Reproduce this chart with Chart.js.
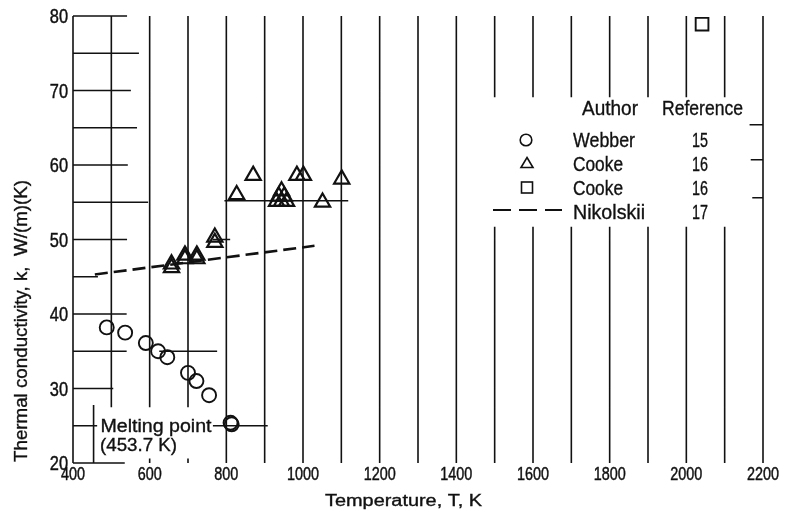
<!DOCTYPE html>
<html>
<head>
<meta charset="utf-8">
<script src="https://cdn.jsdelivr.net/npm/chart.js@4/dist/chart.umd.min.js"></script>
<style>
  html, body { margin: 0; padding: 0; background: #fff; }
  canvas { display: block; }
</style>
</head>
<body>
<canvas id="c" width="788" height="516"></canvas>
<script>
// ---------- data ----------
const xTicks = [400, 600, 800, 1000, 1200, 1400, 1600, 1800, 2000, 2200];
const yTicks = [20, 30, 40, 50, 60, 70, 80];

// Webber (ref. 15) - circles
const webberT = [488, 536, 590, 622, 646, 700, 722, 755, 811, 814];
const webberK = [38.2, 37.5, 36.1, 35.0, 34.2, 32.1, 31.0, 29.1, 25.4, 25.2];

// Cooke (ref. 16) - triangles
const cookeTriT = [657, 657, 692, 692, 723, 723, 770, 770, 827, 870,
                   944, 937, 951, 931, 944, 957, 984, 1001, 1051, 1101];
const cookeTriK = [46.7, 46.2, 47.9, 47.4, 47.9, 47.4, 50.3, 49.6, 56.0, 58.6,
                   56.5, 55.8, 55.8, 55.1, 55.1, 55.1, 58.6, 58.6, 55.0, 58.1];

// Cooke (ref. 16) - square
const cookeSqT = [2041];
const cookeSqK = [78.9];

// Nikolskii (ref. 17) - dashed line
const nikolskiiT = [457, 1030];
const nikolskiiK = [45.3, 49.15];

// Melting point marker
const meltingT = 453.7;
const meltingTopK = 27.8;

// Legend table
const legendAuthors = ['Webber', 'Cooke', 'Cooke', 'Nikolskii'];
const legendRefs = ['15', '16', '16', '17'];

// Grid: vertical lines every 100 K; partial horizontal segments [k, T0, T1]
const vGridT = [500, 600, 700, 800, 900, 1000, 1100, 1200, 1300, 1400, 1500,
                1600, 1700, 1800, 1900, 2000, 2100, 2200];
const hGridSegments = [
  [80, 400, 541], [75, 400, 572], [70, 400, 551], [65, 400, 567],
  [60, 400, 543], [55, 400, 596], [55.2, 795, 1118], [50, 400, 541],
  [50, 765, 810], [45, 400, 465], [40, 400, 540], [35, 400, 540],
  [35, 625, 776], [30, 400, 505], [25, 400, 463], [25, 765, 908],
  [20, 400, 535], [65.4, 2165, 2200], [60.7, 2168, 2200], [55.6, 2172, 2200]
];

// ---------- helpers ----------
const REG = "'Liberation Sans', Arial, sans-serif";
const INK = '#111';

function drawInk(ctx, text) {
  ctx.fillText(text, 0, 0);
  ctx.strokeText(text, 0, 0);
}

// draw text squeezed horizontally by factor sx; align: 'left' | 'center' | 'right'
function squeezeText(ctx, text, x, y, sx, font, align) {
  ctx.save();
  ctx.font = font;
  ctx.textAlign = 'left';
  ctx.textBaseline = 'alphabetic';
  ctx.strokeStyle = INK;
  ctx.lineWidth = 0.45;
  const w = ctx.measureText(text).width * sx;
  let x0 = x;
  if (align === 'center') x0 = x - w / 2;
  if (align === 'right') x0 = x - w;
  ctx.translate(x0, y);
  ctx.scale(sx, 1);
  drawInk(ctx, text);
  ctx.restore();
}

// draw text fitted to a given width, starting at x
function fitText(ctx, text, x, y, w, font) {
  ctx.save();
  ctx.font = font;
  ctx.textAlign = 'left';
  ctx.textBaseline = 'alphabetic';
  ctx.strokeStyle = INK;
  ctx.lineWidth = 0.35;
  const m = ctx.measureText(text).width;
  ctx.translate(x, y);
  ctx.scale(w / m, 1);
  drawInk(ctx, text);
  ctx.restore();
}

const gridPlugin = {
  id: 'grid',
  beforeDatasetsDraw(chart) {
    const { ctx, scales: { x, y } } = chart;
    ctx.save();
    ctx.strokeStyle = INK;
    ctx.lineWidth = 1.6;
    ctx.beginPath();
    ctx.moveTo(x.getPixelForValue(400), y.getPixelForValue(20));
    ctx.lineTo(x.getPixelForValue(400), y.getPixelForValue(80));
    vGridT.forEach(t => {
      const px = x.getPixelForValue(t);
      let segs = [[20, 80]];
      if (t >= 1500 && t <= 2100) segs = [[20, 51.7], [69.1, 80]];
      if (t === 500) segs = [[27.5, 80]];
      if (t === 600 || t === 700) segs = [[20, 20.6], [27.5, 80]];
      segs.forEach(([a, b]) => {
        ctx.moveTo(px, y.getPixelForValue(a));
        ctx.lineTo(px, y.getPixelForValue(b));
      });
    });
    hGridSegments.forEach(([k, t0, t1]) => {
      const py = y.getPixelForValue(k);
      ctx.moveTo(x.getPixelForValue(t0), py);
      ctx.lineTo(x.getPixelForValue(t1), py);
    });
    ctx.moveTo(x.getPixelForValue(meltingT), y.getPixelForValue(20));
    ctx.lineTo(x.getPixelForValue(meltingT), y.getPixelForValue(meltingTopK));
    ctx.stroke();
    ctx.restore();
  },
  afterDraw(chart) {
    const { ctx, scales: { x, y } } = chart;
    ctx.save();
    ctx.fillStyle = INK;
    // tick labels (narrow digits like the reference)
    x.ticks.forEach(t => {
      squeezeText(ctx, String(t.value), x.getPixelForValue(t.value), y.bottom + 16.5, 0.8, '18px ' + REG, 'center');
    });
    y.ticks.forEach(t => {
      squeezeText(ctx, String(t.value), x.left - 5, y.getPixelForValue(t.value) + 7.3, 0.8, '20.5px ' + REG, 'right');
    });
    // legend header
    fitText(ctx, 'Author', 582, 115, 56, '20px ' + REG);
    fitText(ctx, 'Reference', 662, 115, 81, '20px ' + REG);
    const rows = [147, 171, 195, 219];
    const nameW = [62, 50, 50, 72];
    legendAuthors.forEach((a, i) => {
      fitText(ctx, a, 573, rows[i], nameW[i], '20px ' + REG);
      fitText(ctx, legendRefs[i], 692, rows[i], 16, '20px ' + REG);
    });
    // legend symbols
    ctx.strokeStyle = INK;
    ctx.lineWidth = 1.6;
    ctx.beginPath();
    ctx.arc(526, 140, 5.8, 0, Math.PI * 2);
    ctx.stroke();
    ctx.beginPath();
    ctx.moveTo(527, 157.5); ctx.lineTo(533, 167.5); ctx.lineTo(521, 167.5); ctx.closePath();
    ctx.stroke();
    ctx.strokeRect(521.5, 182, 11, 11);
    ctx.lineWidth = 2.2;
    ctx.setLineDash([18, 8]);
    ctx.beginPath();
    ctx.moveTo(493, 210); ctx.lineTo(562, 210);
    ctx.stroke();
    ctx.setLineDash([]);
    // melting point text
    fitText(ctx, 'Melting point', 100.5, 431.5, 111, '18px ' + REG);
    fitText(ctx, '(453.7 K)', 100, 451, 77, '18px ' + REG);
    // axis titles
    fitText(ctx, 'Temperature, T, K', 325, 506, 157, '16px ' + REG);
    ctx.save();
    ctx.translate(27, 462);
    ctx.rotate(-Math.PI / 2);
    fitText(ctx, 'Thermal conductivity, k,  W/(m)(K)', 0, 0, 282, '19px ' + REG);
    ctx.restore();
    ctx.restore();
  }
};

const pts = (xs, ys) => xs.map((v, i) => ({ x: v, y: ys[i] }));

new Chart(document.getElementById('c'), {
  type: 'scatter',
  data: {
    datasets: [
      {
        label: 'Webber', data: pts(webberT, webberK),
        pointStyle: 'circle', pointRadius: 7, borderWidth: 1.9,
        borderColor: INK, backgroundColor: 'rgba(0,0,0,0)'
      },
      {
        label: 'Cooke', data: pts(cookeTriT, cookeTriK),
        pointStyle: 'triangle', pointRadius: 8.8, borderWidth: 2.2,
        borderColor: INK, backgroundColor: 'rgba(0,0,0,0)'
      },
      {
        label: 'Cooke', data: pts(cookeSqT, cookeSqK),
        pointStyle: 'rect', pointRadius: 9, borderWidth: 1.9,
        borderColor: INK, backgroundColor: 'rgba(0,0,0,0)'
      },
      {
        label: 'Nikolskii', data: pts(nikolskiiT, nikolskiiK),
        showLine: true, pointRadius: 0, borderWidth: 2.6,
        borderDash: [13, 6], borderColor: INK, fill: false
      }
    ]
  },
  options: {
    responsive: false,
    animation: false,
    events: [],
    layout: { padding: { left: 0, top: 16, right: 25, bottom: 0 } },
    plugins: { legend: { display: false }, tooltip: { enabled: false } },
    scales: {
      x: {
        type: 'linear', min: 400, max: 2200,
        grid: { display: false, drawTicks: false },
        border: { display: false },
        afterBuildTicks: s => { s.ticks = xTicks.map(v => ({ value: v })); },
        ticks: { display: false },
        afterFit: s => { s.height = 53; }
      },
      y: {
        type: 'linear', min: 20, max: 80,
        grid: { display: false, drawTicks: false },
        border: { display: false },
        afterBuildTicks: s => { s.ticks = yTicks.map(v => ({ value: v })); },
        ticks: { display: false },
        afterFit: s => { s.width = 73; }
      }
    }
  },
  plugins: [gridPlugin]
});
</script>
</body>
</html>
